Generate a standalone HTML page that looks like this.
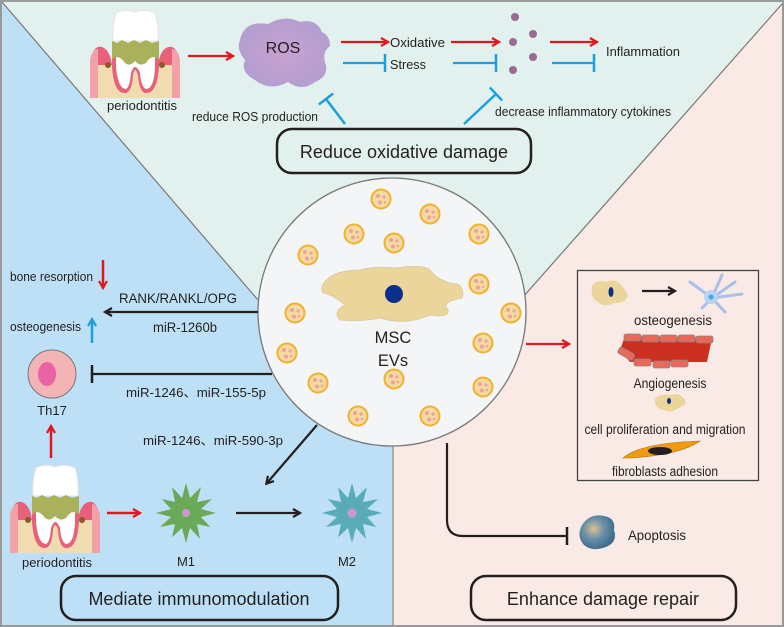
<!DOCTYPE html>
<html><head><meta charset="utf-8"><style>
html,body{margin:0;padding:0;background:#fff}
svg{display:block}
text{font-family:"Liberation Sans","Noto Sans CJK SC",sans-serif;fill:#231f20}
</style></head><body>
<svg width="784" height="627" viewBox="0 0 784 627" xmlns="http://www.w3.org/2000/svg">
<defs>
<marker id="ar" markerWidth="10" markerHeight="10" refX="7" refY="5" orient="auto" markerUnits="userSpaceOnUse"><path d="M1,1 L8,5 L1,9" fill="none" stroke="#e3161e" stroke-width="2.2"/></marker>
<marker id="ak" markerWidth="10" markerHeight="10" refX="7" refY="5" orient="auto" markerUnits="userSpaceOnUse"><path d="M1,1 L8,5 L1,9" fill="none" stroke="#231f20" stroke-width="2.2"/></marker>
<marker id="ab" markerWidth="10" markerHeight="10" refX="7" refY="5" orient="auto" markerUnits="userSpaceOnUse"><path d="M1,1 L8,5 L1,9" fill="none" stroke="#1aa0e0" stroke-width="2.2"/></marker>
<marker id="tb" markerWidth="4" markerHeight="20" refX="2" refY="10" orient="auto" markerUnits="userSpaceOnUse"><path d="M2,1 L2,19" stroke="#1aa0e0" stroke-width="2.5"/></marker>
<marker id="tk" markerWidth="4" markerHeight="20" refX="2" refY="10" orient="auto" markerUnits="userSpaceOnUse"><path d="M2,1 L2,19" stroke="#231f20" stroke-width="2.5"/></marker>
<radialGradient id="rg" cx="0.5" cy="0.5" r="0.5"><stop offset="0" stop-color="#c8a0d0"/><stop offset="1" stop-color="#b49fd0"/></radialGradient>
<radialGradient id="ap" cx="0.4" cy="0.4" r="0.6"><stop offset="0" stop-color="#e0c090"/><stop offset="0.5" stop-color="#6a90a8"/><stop offset="1" stop-color="#3f6e8e"/></radialGradient>
<g id="tooth">
  <path d="M2,93 L2,52 Q4,40 12,42 Q20,45 22,60 L22,93 Z" fill="#e8607a"/>
  <path d="M88,93 L88,52 Q86,40 78,42 Q70,45 68,60 L68,93 Z" fill="#e8607a"/>
  <rect x="2" y="60" width="86" height="33" fill="#f1dcb0"/>
  <path d="M0,93 L0,55 Q2,44 8,44 L8,93Z" fill="#f4a0a8"/>
  <path d="M90,93 L90,55 Q88,44 82,44 L82,93Z" fill="#f4a0a8"/>
  <path d="M22,40 L22,62 Q24,90 36,88 Q42,86 43,70 Q45,60 48,70 Q49,86 55,88 Q67,90 69,62 L69,40Z" fill="#e8607a"/>
  <path d="M26,40 L26,62 Q28,84 36,84 Q40,82 41,68 Q45,56 50,68 Q51,82 56,84 Q64,84 65,62 L65,40Z" fill="#fff"/>
  <path d="M26,8 Q35,3 45,7 Q55,3 65,8 Q69,20 68,36 L23,36 Q22,20 26,8Z" fill="#fff" stroke="#e4e4e4" stroke-width="1"/>
  <path d="M22,36 L27,38 L32,35 L38,38 L44,35 L50,38 L56,35 L62,38 L69,36 L69,55 Q62,48 56,58 Q50,62 45,56 Q40,62 35,58 Q28,48 22,55Z" fill="#a9b15a"/>
  <circle cx="18" cy="60" r="3" fill="#8a5a2a"/><circle cx="72" cy="60" r="3" fill="#8a5a2a"/>
</g>
<g id="ves"><circle r="9.5" fill="#f6dba0" stroke="#f0b030" stroke-width="2"/><circle cx="-3" cy="-3" r="2" fill="#f0a0a0"/><circle cx="3" cy="-2" r="1.6" fill="#f0a0a0"/><circle cx="-1" cy="3.5" r="2" fill="#f0a0a0"/><circle cx="4" cy="3" r="1.3" fill="#f0a0a0"/></g>
<polygon id="star" points="30,0 15,4 24.2,14 11,11 14,26 4,15 0,30 -4,15 -14,24.2 -11,11 -26,14 -15,4 -30,0 -15,-4 -24.2,-14 -11,-11 -14,-26 -4,-15 0,-30 4,-15 15,-26 11,-11 26,-14 15,-4"/>
</defs>

<rect x="0" y="0" width="784" height="627" fill="#faeae6"/>
<polygon points="2,2 258,300 300,390 393,443 393,625 2,625" fill="#bde0f6"/>
<polygon points="2,2 782,2 523,297 392,312 258,300" fill="#e2f0ee"/>
<line x1="2" y1="2" x2="258" y2="300" stroke="#777" stroke-width="1.2"/>
<line x1="782" y1="4" x2="523" y2="297" stroke="#777" stroke-width="1.2"/>
<line x1="393" y1="443" x2="393" y2="625" stroke="#888" stroke-width="1.2"/>
<rect x="1" y="1" width="782" height="625" fill="none" stroke="#999" stroke-width="2"/>

<use href="#tooth" x="90" y="5"/>
<text x="142" y="110" font-size="13" text-anchor="middle" textLength="70" lengthAdjust="spacingAndGlyphs">periodontitis</text>
<line x1="188" y1="56" x2="232" y2="56" stroke="#e3161e" stroke-width="2.2" marker-end="url(#ar)"/>
<path d="M240,40 Q244,20 268,24 Q285,14 300,22 Q316,18 322,32 Q330,36 330,46 Q322,52 325,62 Q330,76 315,82 Q302,92 288,82 Q270,92 255,80 Q240,72 245,60 Q236,50 240,40Z" fill="url(#rg)"/>
<text x="283" y="53" font-size="16" text-anchor="middle">ROS</text>
<line x1="341" y1="42" x2="387" y2="42" stroke="#e3161e" stroke-width="2.2" marker-end="url(#ar)"/>
<line x1="343" y1="63" x2="385" y2="63" stroke="#1aa0e0" stroke-width="2.2" marker-end="url(#tb)"/>
<text x="390" y="47" font-size="13" textLength="55" lengthAdjust="spacingAndGlyphs">Oxidative</text>
<text x="390" y="69" font-size="13" textLength="36" lengthAdjust="spacingAndGlyphs">Stress</text>
<line x1="451" y1="42" x2="498" y2="42" stroke="#e3161e" stroke-width="2.2" marker-end="url(#ar)"/>
<line x1="453" y1="63" x2="496" y2="63" stroke="#1aa0e0" stroke-width="2.2" marker-end="url(#tb)"/>
<g fill="#9a6a95"><circle cx="515" cy="17" r="4"/><circle cx="513" cy="42" r="4"/><circle cx="533" cy="34" r="4"/><circle cx="533" cy="57" r="4"/><circle cx="513" cy="70" r="4"/></g>
<line x1="550" y1="42" x2="596" y2="42" stroke="#e3161e" stroke-width="2.2" marker-end="url(#ar)"/>
<line x1="552" y1="63" x2="594" y2="63" stroke="#1aa0e0" stroke-width="2.2" marker-end="url(#tb)"/>
<text x="606" y="56" font-size="13" textLength="74" lengthAdjust="spacingAndGlyphs">Inflammation</text>
<line x1="345" y1="124" x2="326" y2="99" stroke="#1aa0e0" stroke-width="2.5" marker-end="url(#tb)"/>
<text x="192" y="121" font-size="12.5" textLength="126" lengthAdjust="spacingAndGlyphs">reduce ROS production</text>
<line x1="464" y1="124" x2="496" y2="94" stroke="#1aa0e0" stroke-width="2.5" marker-end="url(#tb)"/>
<text x="495" y="116" font-size="12.5" textLength="176" lengthAdjust="spacingAndGlyphs">decrease inflammatory cytokines</text>
<rect x="277" y="129" width="254" height="44" rx="15" fill="none" stroke="#231f20" stroke-width="2.5"/>
<text x="404" y="158" font-size="18" text-anchor="middle">Reduce oxidative damage</text>

<circle cx="392" cy="312" r="134" fill="#f3f5f6" stroke="#777" stroke-width="1.3"/>
<path d="M322,286 Q330,270 360,270 Q375,266 395,268 Q425,264 430,270 Q440,283 458,284 Q465,290 462,298 Q440,302 448,310 Q450,318 430,315 Q405,326 380,318 Q360,322 340,320 Q332,312 345,305 Q335,296 322,292Z" fill="#ecd59a" stroke="#d8c8a0" stroke-width="0.8"/>
<circle cx="394" cy="294" r="9" fill="#0b2f8a"/>
<text x="393" y="343" font-size="16.5" text-anchor="middle">MSC</text>
<text x="393" y="366" font-size="16.5" text-anchor="middle">EVs</text>
<use href="#ves" x="381" y="199"/><use href="#ves" x="430" y="214"/><use href="#ves" x="479" y="234"/>
<use href="#ves" x="354" y="234"/><use href="#ves" x="394" y="243"/><use href="#ves" x="308" y="255"/>
<use href="#ves" x="479" y="284"/><use href="#ves" x="511" y="313"/><use href="#ves" x="295" y="313"/>
<use href="#ves" x="483" y="343"/><use href="#ves" x="287" y="353"/><use href="#ves" x="318" y="383"/>
<use href="#ves" x="394" y="379"/><use href="#ves" x="483" y="387"/><use href="#ves" x="358" y="416"/>
<use href="#ves" x="430" y="416"/>

<text x="10" y="281" font-size="12.5" textLength="83" lengthAdjust="spacingAndGlyphs">bone resorption</text>
<line x1="103" y1="260" x2="103" y2="287" stroke="#e3161e" stroke-width="2.5" marker-end="url(#ar)"/>
<text x="178" y="303" font-size="13.5" text-anchor="middle" textLength="118" lengthAdjust="spacingAndGlyphs">RANK/RANKL/OPG</text>
<line x1="258" y1="312" x2="106" y2="312" stroke="#231f20" stroke-width="2.2" marker-end="url(#ak)"/>
<text x="185" y="332" font-size="13.5" text-anchor="middle" textLength="64" lengthAdjust="spacingAndGlyphs">miR-1260b</text>
<text x="10" y="331" font-size="12.5" textLength="71" lengthAdjust="spacingAndGlyphs">osteogenesis</text>
<line x1="92" y1="343" x2="92" y2="320" stroke="#1aa0e0" stroke-width="2.5" marker-end="url(#ab)"/>
<circle cx="52" cy="374" r="24" fill="#f2b4b4" stroke="#777" stroke-width="1"/>
<ellipse cx="47" cy="374" rx="9" ry="12" fill="#e963a6"/>
<text x="52" y="415" font-size="13" text-anchor="middle">Th17</text>
<line x1="272" y1="374" x2="92" y2="374" stroke="#231f20" stroke-width="2.2" marker-end="url(#tk)"/>
<text x="196" y="397" font-size="13" text-anchor="middle" textLength="140" lengthAdjust="spacingAndGlyphs">miR-1246、miR-155-5p</text>
<line x1="51" y1="458" x2="51" y2="427" stroke="#e3161e" stroke-width="2.5" marker-end="url(#ar)"/>
<text x="213" y="445" font-size="13" text-anchor="middle" textLength="140" lengthAdjust="spacingAndGlyphs">miR-1246、miR-590-3p</text>
<line x1="317" y1="425" x2="267" y2="483" stroke="#231f20" stroke-width="2.2" marker-end="url(#ak)"/>
<use href="#tooth" x="10" y="460"/>
<text x="57" y="567" font-size="13" text-anchor="middle" textLength="70" lengthAdjust="spacingAndGlyphs">periodontitis</text>
<line x1="107" y1="513" x2="139" y2="513" stroke="#e3161e" stroke-width="2.5" marker-end="url(#ar)"/>
<use href="#star" x="186" y="513" fill="#6aa957"/>
<circle cx="186" cy="513" r="4" fill="#cc99cc"/>
<line x1="236" y1="513" x2="299" y2="513" stroke="#231f20" stroke-width="2.2" marker-end="url(#ak)"/>
<use href="#star" x="352" y="513" fill="#5aabb9"/>
<circle cx="352" cy="513" r="4.5" fill="#cc99cc"/>
<text x="186" y="566" font-size="13" text-anchor="middle">M1</text>
<text x="347" y="566" font-size="13" text-anchor="middle">M2</text>
<rect x="61" y="576" width="277" height="44" rx="15" fill="none" stroke="#231f20" stroke-width="2.5"/>
<text x="199" y="605" font-size="18" text-anchor="middle">Mediate immunomodulation</text>

<line x1="526" y1="344" x2="568" y2="344" stroke="#e3161e" stroke-width="2.2" marker-end="url(#ar)"/>
<rect x="577.5" y="270.5" width="181" height="210" fill="none" stroke="#444" stroke-width="1.3"/>
<path d="M592,286 Q596,279 606,282 Q614,278 620,284 Q626,290 628,296 Q624,304 614,303 Q604,308 598,302 Q590,298 592,286Z" fill="#ecd59a"/>
<ellipse cx="611" cy="292" rx="2.5" ry="5" fill="#0b2f8a"/>
<line x1="642" y1="291" x2="674" y2="291" stroke="#231f20" stroke-width="2.2" marker-end="url(#ak)"/>
<g stroke="#a8c0ea" stroke-width="3" stroke-linecap="round"><line x1="712" y1="298" x2="690" y2="282"/><line x1="712" y1="298" x2="722" y2="275"/><line x1="712" y1="298" x2="735" y2="282"/><line x1="712" y1="298" x2="742" y2="294"/><line x1="712" y1="298" x2="725" y2="312"/><line x1="712" y1="298" x2="702" y2="308"/></g>
<circle cx="711" cy="297" r="7" fill="#bcd0f0"/><circle cx="711" cy="297" r="2.5" fill="#3aaae8"/>
<text x="673" y="325" font-size="13.5" text-anchor="middle" textLength="78" lengthAdjust="spacingAndGlyphs">osteogenesis</text>
<path d="M625,336 L712,338 L707,362 L630,362 L620,350Z" fill="#cc3020"/>
<g fill="#e8685a" stroke="#888" stroke-width="0.8">
<rect x="624" y="334" width="17" height="7" rx="2"/><rect x="642" y="335" width="17" height="7" rx="2"/><rect x="660" y="335" width="17" height="7" rx="2"/><rect x="678" y="335" width="17" height="7" rx="2"/><rect x="696" y="336" width="17" height="7" rx="2"/>
<rect x="618" y="350" width="17" height="7" rx="2" transform="rotate(30 626 353)"/><rect x="634" y="359" width="17" height="7" rx="2"/><rect x="653" y="361" width="17" height="7" rx="2"/><rect x="671" y="360" width="17" height="7" rx="2"/></g>
<text x="670" y="388" font-size="13.5" text-anchor="middle" textLength="73" lengthAdjust="spacingAndGlyphs">Angiogenesis</text>
<path d="M655,399 Q660,393 670,395 Q680,392 684,399 Q688,405 680,407 Q672,414 664,410 Q654,409 655,399Z" fill="#ecd59a"/>
<ellipse cx="669" cy="401" rx="2" ry="3" fill="#0b2f8a"/>
<text x="665" y="434" font-size="13.5" text-anchor="middle" textLength="161" lengthAdjust="spacingAndGlyphs">cell proliferation and migration</text>
<path d="M623,458 Q640,443 700,441 Q680,455 630,458Z" fill="#f09a10" stroke="#b07010" stroke-width="0.6"/>
<ellipse cx="660" cy="451" rx="12" ry="4" fill="#231f20"/>
<text x="665" y="476" font-size="13.5" text-anchor="middle" textLength="106" lengthAdjust="spacingAndGlyphs">fibroblasts adhesion</text>
<path d="M447,443 L447,520 Q447,536 463,536 L567,536" fill="none" stroke="#231f20" stroke-width="2.2" marker-end="url(#tk)"/>
<path d="M582,525 Q590,513 604,516 Q616,518 614,530 Q618,542 606,547 Q592,552 584,545 Q576,536 582,525Z" fill="url(#ap)"/>
<text x="628" y="540" font-size="14" textLength="58" lengthAdjust="spacingAndGlyphs">Apoptosis</text>
<rect x="471" y="576" width="265" height="44" rx="15" fill="none" stroke="#231f20" stroke-width="2.5"/>
<text x="603" y="605" font-size="18" text-anchor="middle">Enhance damage repair</text>
</svg>
</body></html>
